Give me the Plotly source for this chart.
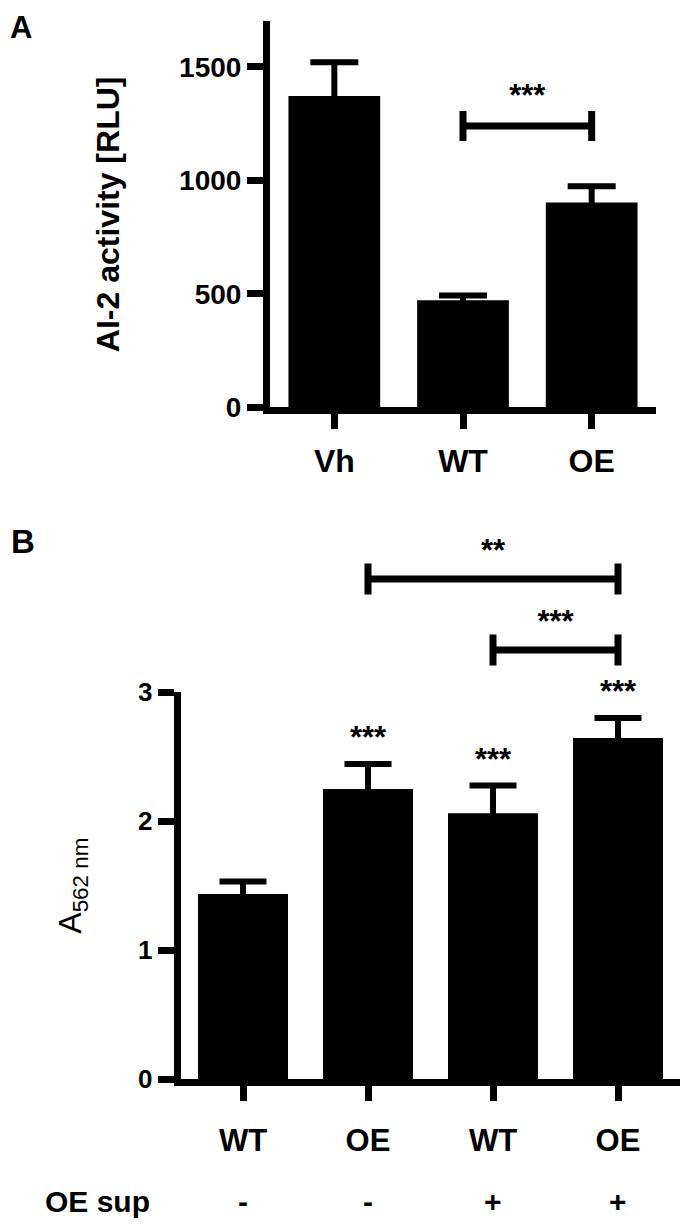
import plotly.graph_objects as go

W, H = 688, 1228

# ---------------- data ----------------
# Panel A
a_categories = ["Vh", "WT", "OE"]
a_means = [1371, 472, 902]
a_sem = [149, 21, 72]
a_ticks = [0, 500, 1000, 1500]
a_brackets = [(1, 2, 1239, "***")]

# Panel B
b_categories = ["WT", "OE", "WT", "OE"]
b_sup = ["-", "-", "+", "+"]
b_means = [1.435, 2.250, 2.061, 2.645]
b_sem = [0.098, 0.194, 0.216, 0.156]
b_stars = ["", "***", "***", "***"]
b_ticks = [0, 1, 2, 3]
b_brackets = [(1, 3, 3.879, "**"), (2, 3, 3.328, "***")]

# ---------------- layout geometry ----------------
FONT = "Liberation Sans, Arial, sans-serif"
OFF = 8  # page body margin offset of the rendered figure


def fx(px):
    return (px - OFF) / W


def fy(py):
    return 1 - (py - OFF) / H


A_XDOM = [fx(270), fx(656)]
A_YDOM = [fy(407.3), fy(21.4)]
A_YMAX = 1700
B_XDOM = [fx(180.5), fx(680.5)]
B_YDOM = [fy(1079), fy(692.3)]
B_YMAX = 3
B_Y3DOM = [B_YDOM[0], fy(525)]          # hidden overlay for brackets / stars

a_ppu = (A_YDOM[1] - A_YDOM[0]) * H / A_YMAX   # px per data unit
b_ppu = (B_YDOM[1] - B_YDOM[0]) * H / B_YMAX
B_Y3MAX = (B_Y3DOM[1] - B_Y3DOM[0]) * H / b_ppu

STAR_SIZE = 31
STAR_LIFT = 0.27 * STAR_SIZE   # glyph centre sits above text anchor

fig = go.Figure()


def add_bars(cats, means, sem, xa, ya, bw, ethick, ewidth):
    xs = list(range(len(cats)))
    fig.add_trace(go.Bar(
        x=xs, y=means, width=bw, xaxis=xa, yaxis=ya, showlegend=False,
        marker=dict(color="black", line=dict(width=0)),
        error_y=dict(type="data", array=sem, symmetric=True, color="black",
                     thickness=ethick, width=ewidth),
        hoverinfo="skip",
    ))
    return xs


def add_stars(xs, ys, labels, xa, ya, ppu, gap_px):
    fig.add_trace(go.Scatter(
        x=xs, y=[v + (gap_px - STAR_LIFT) / ppu for v in ys], text=labels,
        mode="text", textposition="middle center",
        textfont=dict(family=FONT, size=STAR_SIZE, color="black", weight="bold"),
        xaxis=xa, yaxis=ya, showlegend=False, cliponaxis=False, hoverinfo="skip"))


def add_brackets(brackets, xa, ya, ppu, half_px, lw, gap_px):
    d = half_px / ppu
    for (i, j, h, label) in brackets:
        fig.add_trace(go.Scatter(
            x=[i, i, None, i, j, None, j, j],
            y=[h - d, h + d, None, h, h, None, h - d, h + d],
            mode="lines", line=dict(color="black", width=lw),
            xaxis=xa, yaxis=ya, showlegend=False, cliponaxis=False, hoverinfo="skip"))
    add_stars([(b[0] + b[1]) / 2 for b in brackets], [b[2] for b in brackets],
              [b[3] for b in brackets], xa, ya, ppu, gap_px)


# Panel A
a_x = add_bars(a_categories, a_means, a_sem, "x", "y", 0.713, 6, 24)
add_brackets(a_brackets, "x", "y", a_ppu, 15, 7, 36)

# Panel B
b_x = add_bars(b_categories, b_means, b_sem, "x2", "y2", 0.72, 6, 23.5)
add_brackets(b_brackets, "x2", "y3", b_ppu, 15.5, 7, 34)
star_idx = [k for k, s in enumerate(b_stars) if s]
add_stars([b_x[k] for k in star_idx], [b_means[k] + b_sem[k] for k in star_idx],
          [b_stars[k] for k in star_idx], "x2", "y3", b_ppu, 32)


def axis(lw, **kw):
    d = dict(showgrid=False, zeroline=False, showline=True, linecolor="black",
             linewidth=lw, ticks="outside", tickcolor="black", tickwidth=lw,
             fixedrange=True, automargin=False)
    d.update(kw)
    return d


fig.update_layout(
    width=W, height=H, margin=dict(l=0, r=0, t=0, b=0, autoexpand=False),
    paper_bgcolor="white", plot_bgcolor="rgba(0,0,0,0)",
    font=dict(family=FONT, color="black"),
    xaxis=axis(7, domain=A_XDOM, anchor="y", range=[-0.5, len(a_categories) - 0.5],
               tickvals=a_x, ticktext=a_categories, ticklen=15, ticklabelstandoff=4,
               tickfont=dict(family=FONT, size=32, weight="bold")),
    yaxis=axis(7, domain=A_YDOM, anchor="x", range=[0, A_YMAX], tickvals=a_ticks,
               ticklen=16, tickfont=dict(family=FONT, size=28, weight="bold"),
               title=dict(text="AI-2 activity [RLU]", standoff=52,
                          font=dict(family=FONT, size=32, weight="bold"))),
    xaxis2=axis(6.5, domain=B_XDOM, anchor="y2", range=[-0.5, len(b_categories) - 0.5],
                tickvals=b_x, ticktext=b_categories, ticklen=15, ticklabelstandoff=13,
                tickfont=dict(family=FONT, size=31, weight="bold")),
    yaxis2=axis(6.5, domain=B_YDOM, anchor="x2", range=[0, B_YMAX], tickvals=b_ticks,
                ticklen=16, tickfont=dict(family=FONT, size=26, weight="bold"),
                title=dict(text="A<sub>562 nm</sub>", standoff=49,
                           font=dict(family=FONT, size=32))),
    yaxis3=dict(domain=B_Y3DOM, anchor="x2", range=[0, B_Y3MAX], visible=False,
                fixedrange=True, automargin=False),
)

annotations = [
    dict(text="<b>A</b>", x=fx(21), y=1, xref="paper", yref="paper",
         xanchor="center", yanchor="top", showarrow=False, font=dict(family=FONT, size=31)),
    dict(text="<b>B</b>", x=fx(23.5), y=fy(541.5), xref="paper", yref="paper",
         xanchor="center", yanchor="middle", showarrow=False, font=dict(family=FONT, size=33)),
    dict(text="<b>OE sup</b>", x=fx(97.5), y=fy(1201.7), xref="paper", yref="paper",
         xanchor="center", yanchor="middle", showarrow=False, font=dict(family=FONT, size=30)),
]
for xi, s in zip(b_x, b_sup):
    annotations.append(dict(text="<b>%s</b>" % s, x=xi, y=fy(1201.7), xref="x2",
                            yref="paper", xanchor="center", yanchor="middle",
                            showarrow=False, font=dict(family=FONT, size=30)))
fig.update_layout(annotations=annotations)

fig.write_html("out.html")
